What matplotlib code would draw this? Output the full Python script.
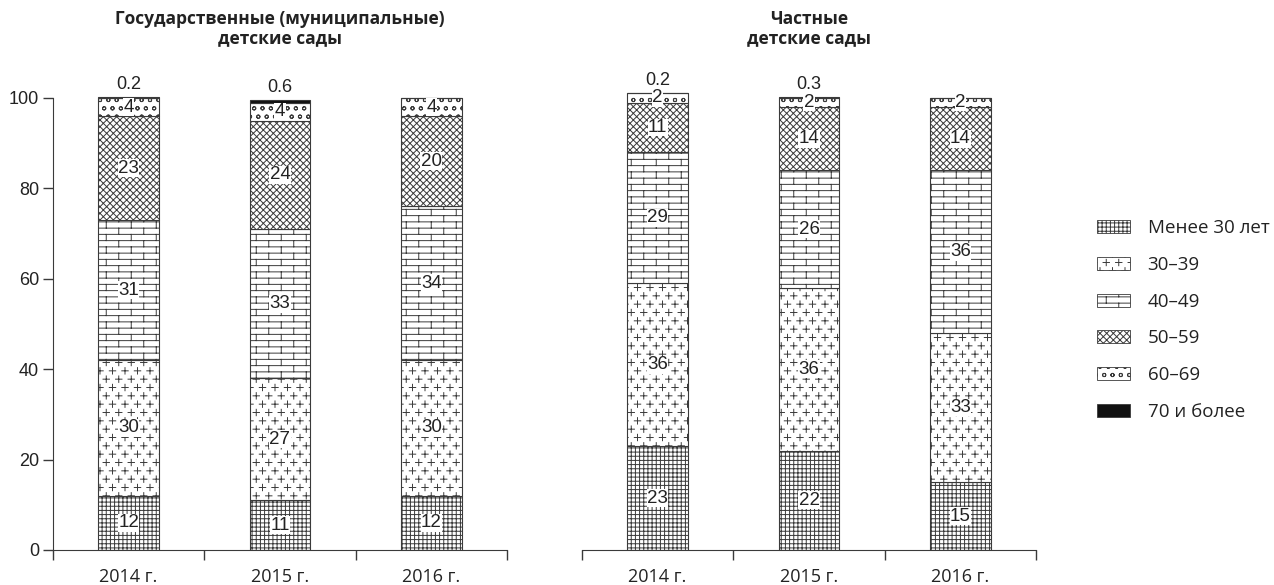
import numpy as np
import matplotlib
matplotlib.use("Agg")
import matplotlib.pyplot as plt
import matplotlib.hatch as mhatch
from matplotlib.path import Path
from matplotlib.patches import Patch

# ---- data ----
years = ["2014 г.", "2015 г.", "2016 г."]
groups = ["Менее 30 лет", "30–39", "40–49", "50–59", "60–69", "70 и более"]

state_vals = {
    "Менее 30 лет": [12, 11, 12],
    "30–39": [30, 27, 30],
    "40–49": [31, 33, 34],
    "50–59": [23, 24, 20],
    "60–69": [4, 4, 4],
    "70 и более": [0.2, 0.6, 0],
}
private_vals = {
    "Менее 30 лет": [23, 22, 15],
    "30–39": [36, 36, 33],
    "40–49": [29, 26, 36],
    "50–59": [11, 14, 14],
    "60–69": [2, 2, 2],
    "70 и более": [0.2, 0.3, 0],
}
titles = ["Государственные (муниципальные)\nдетские сады", "Частные\nдетские сады"]


# ---- custom hatches: '*' -> scattered pluses, '.' -> bricks ----
class PlusHatch(mhatch.HatchPatternBase):
    def __init__(self, hatch, density):
        self.cols, self.rows, self.arm = 8, 12, 0.032
        self.centers = []
        if hatch.count("*") > 0:
            for j in range(self.rows):
                y = (j + 0.5) / self.rows
                if j % 2 == 0:
                    xs = [(i + 0.5) / self.cols for i in range(self.cols)]
                else:
                    xs = [i / self.cols for i in range(self.cols + 1)]
                self.centers += [(x, y) for x in xs]
        self.num_vertices = len(self.centers) * 4

    def set_vertices_and_codes(self, vertices, codes):
        a = self.arm
        for k, (x, y) in enumerate(self.centers):
            vertices[4 * k:4 * k + 4] = [(x - a, y), (x + a, y), (x, y - a), (x, y + a)]
            codes[4 * k:4 * k + 4] = [Path.MOVETO, Path.LINETO, Path.MOVETO, Path.LINETO]


class BrickHatch(mhatch.HatchPatternBase):
    def __init__(self, hatch, density):
        R, C = 16, 4
        self.segs = []
        if hatch.count(".") > 0:
            for j in range(R):
                y = (j + 0.5) / R
                self.segs.append(((0, y), (1, y)))
            for k in range(R + 1):
                y0, y1 = (k - 0.5) / R, (k + 0.5) / R
                for i in range(C):
                    x = (i + 0.25 + 0.5 * (k % 2)) / C
                    self.segs.append(((x, y0), (x, y1)))
        self.num_vertices = len(self.segs) * 2

    def set_vertices_and_codes(self, vertices, codes):
        for k, (p0, p1) in enumerate(self.segs):
            vertices[2 * k] = p0
            vertices[2 * k + 1] = p1
            codes[2 * k] = Path.MOVETO
            codes[2 * k + 1] = Path.LINETO


mhatch._hatch_types = [c for c in mhatch._hatch_types
                       if c not in (mhatch.Stars, mhatch.SmallFilledCircles)] + [PlusHatch, BrickHatch]

plt.rcParams["hatch.linewidth"] = 0.7
plt.rcParams["font.family"] = ["Open Sans", "Noto Sans", "DejaVu Sans"]
num_font = ["Liberation Sans Narrow", "Liberation Sans", "DejaVu Sans"]

styles = {
    "Менее 30 лет": dict(hatch="++++", facecolor="white"),
    "30–39": dict(hatch="*", facecolor="white"),
    "40–49": dict(hatch=".", facecolor="white"),
    "50–59": dict(hatch="xxxxx", facecolor="white"),
    "60–69": dict(hatch="oo", facecolor="white"),
    "70 и более": dict(hatch=None, facecolor="#111111"),
}
edge = "#3a3a3a"
txt = "#222222"

W, H = 1274, 585
fig = plt.figure(figsize=(W / 100, H / 100), dpi=100)
ax_l = fig.add_axes([53 / W, 35 / H, 454 / W, 452 * 1.02 / H])
ax_r = fig.add_axes([582 / W, 35 / H, 454 / W, 452 * 1.02 / H])

x = np.arange(len(years))
for ax, vals, title in [(ax_l, state_vals, titles[0]), (ax_r, private_vals, titles[1])]:
    bottom = np.zeros(len(years))
    for g in groups:
        v = np.array(vals[g], dtype=float)
        ax.bar(x, v, 0.4, bottom=bottom, edgecolor=edge, linewidth=0.8,
               label=g, zorder=2, **styles[g])
        for xi, b, h in zip(x, bottom, v):
            if h <= 0:
                continue
            if g == "70 и более":
                ax.text(xi, b + h + 0.8, f"{h:g}", ha="center", va="bottom",
                        fontsize=13, family=num_font, color=txt)
            else:
                ax.text(xi, b + h / 2, f"{h:g}", ha="center", va="center",
                        fontsize=13.5, family=num_font, color=txt, zorder=3,
                        bbox=dict(facecolor="white", edgecolor="none", pad=0.3))
        bottom += v

    ax.set_xlim(-0.5, 2.5)
    ax.set_ylim(0, 102)
    ax.set_xticks([-0.5, 0.5, 1.5, 2.5])
    ax.set_xticklabels([])
    ax.set_xticks(x, minor=True)
    ax.set_xticklabels(years, minor=True, fontsize=13, color=txt)
    ax.tick_params(axis="x", which="major", length=7, width=1, color=edge)
    ax.tick_params(axis="x", which="minor", length=0, pad=13)
    for s in ["top", "right"]:
        ax.spines[s].set_visible(False)
    ax.spines["bottom"].set_color(edge)
    ax.spines["left"].set_color(edge)
    pos = ax.get_position()
    fig.text((pos.x0 + pos.x1) / 2, 1 - 47 / H, title,
             ha="center", va="bottom", fontsize=12.5, fontweight="bold",
             color=txt, linespacing=1.05)

ax_l.spines["left"].set_bounds(0, 100)
ax_l.set_yticks(range(0, 101, 20))
ax_l.set_yticklabels([str(t) for t in range(0, 101, 20)], family=num_font,
                     fontsize=13, color=txt)
ax_l.tick_params(axis="y", length=7, width=1, color=edge, pad=3)

ax_r.spines["left"].set_visible(False)
ax_r.set_yticks([])

handles = [Patch(edgecolor=edge, linewidth=0.6, **styles[g]) for g in groups]
fig.legend(handles, groups, loc="center left", bbox_to_anchor=(1097 / W, 1 - 320 / H),
           frameon=False, fontsize=13.5, handlelength=1.75, handleheight=0.7,
           handletextpad=0.95, labelspacing=1.0, borderpad=0, borderaxespad=0,
           labelcolor=txt)

fig.savefig("out.png", dpi=100)
